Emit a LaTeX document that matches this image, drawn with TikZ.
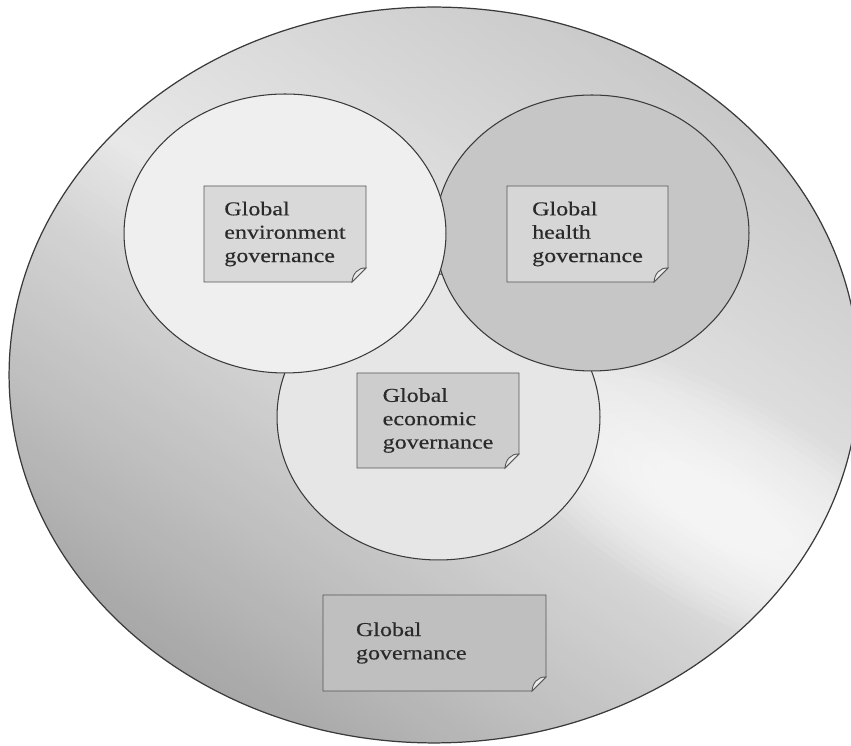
\documentclass[tikz,border=0pt]{standalone}
\usepackage{fontspec}
\setmainfont{Liberation Serif}[FakeStretch=1.22,FakeBold=0.35]
\usetikzlibrary{shapes.geometric}
\definecolor{edgecol}{HTML}{3A3A3A}
\definecolor{boxcol}{HTML}{555555}
\definecolor{textcol}{HTML}{2A2A2A}
\definecolor{envfill}{HTML}{EFEFEF}
\definecolor{healthfill}{HTML}{C6C6C6}
\definecolor{econfill}{HTML}{E6E6E6}
\definecolor{envboxfill}{HTML}{D9D9D9}
\definecolor{healthboxfill}{HTML}{D6D6D6}
\definecolor{econboxfill}{HTML}{CDCDCD}
\definecolor{ggboxfill}{HTML}{BFBFBF}
\definecolor{foldfill}{HTML}{ECECEC}
\pgfdeclarelayer{textlayer}
\pgfsetlayers{main,textlayer}
\newcommand\paperbox[2]{%
  \draw[boxedge, fill=#2] (#1.north west) -- (#1.north east) -- ([yshift=0.28cm]#1.south east) -- ([xshift=-0.28cm]#1.south east) -- (#1.south west) -- cycle;
  \draw[boxedge, fill=foldfill] ([xshift=-0.28cm]#1.south east) -- ([yshift=0.28cm]#1.south east) .. controls ([xshift=-0.16cm,yshift=0.29cm]#1.south east) and ([xshift=-0.27cm,yshift=0.16cm]#1.south east) .. ([xshift=-0.28cm]#1.south east) -- cycle;
}
\begin{document}
\begin{tikzpicture}[x=0.02cm,y=0.02cm,
  ring/.style={ellipse, draw=edgecol, line width=0.6pt, inner sep=0pt, outer sep=0pt},
  papertext/.style={draw=none, fill=none, inner sep=0pt, outer sep=0pt, align=left, text=textcol, font=\fontsize{11.2}{13.3}\selectfont},
  boxedge/.style={draw=boxcol, line width=0.5pt, line join=miter}]
\useasboundingbox (0,0) rectangle (851,746);
\fill[white] (0,0) rectangle (851,746);

% texts of the boxes (drawn on top layer)
\begin{pgfonlayer}{textlayer}
\node[papertext, minimum width=3.24cm, minimum height=1.92cm] (envbox) at (285,512) {Global\\environment\\governance};
\node[papertext, minimum width=3.22cm, minimum height=1.92cm] (healthbox) at (587.5,512) {Global\\health\\governance};
\node[papertext, minimum width=3.24cm, minimum height=1.9cm] (econbox) at (438,325.5) {Global\\economic\\governance};
\node[papertext, minimum width=4.46cm, minimum height=1.92cm, text width=3.14cm] (ggbox) at (434.5,103) {Global\\governance};
\end{pgfonlayer}

% big shaded ellipse
\begin{scope}
  \clip (434,371) ellipse [x radius=425, y radius=368];
  \begin{scope}[shift={(440,391)}, rotate=56.5]
    \foreach \s in {-440,-434,...,440} {
      \pgfmathsetmacro\g{(\s<-250) ? (66+(\s+400)*0.06) : ((\s<-100) ? (75+(\s+250)*8/150) : ((\s<0) ? (83+(\s+100)*0.08) : ((\s<150) ? (91-\s/30) : ((\s<300) ? (86-(\s-150)/30) : (81-(\s-300)*0.03)))))}
      \fill[white!\g!black] (\s,-700) rectangle ({\s+6.6},700);
    }
  \end{scope}
  \begin{scope}[shift={(725,240)}, rotate=-30]
    \foreach \k in {0,...,13} {
      \fill[white, opacity=0.085] (0,0) ellipse [x radius={270-16*\k}, y radius={105-6.5*\k}];
    }
  \end{scope}
\end{scope}
\node[ring, line width=0.7pt, minimum width=17cm, minimum height=14.72cm] (world) at (434,371) {};

\paperbox{ggbox}{ggboxfill}

% the three governance circles
\node[ring, fill=econfill, minimum width=6.46cm, minimum height=5.72cm] (econ) at (438.5,329) {};
\node[ring, fill=healthfill, minimum width=6.28cm, minimum height=5.52cm] (health) at (592,513) {};
\node[ring, fill=envfill, minimum width=6.44cm, minimum height=5.58cm] (env) at (285,512.5) {};

\paperbox{econbox}{econboxfill}
\paperbox{healthbox}{healthboxfill}
\paperbox{envbox}{envboxfill}
\end{tikzpicture}
\end{document}
